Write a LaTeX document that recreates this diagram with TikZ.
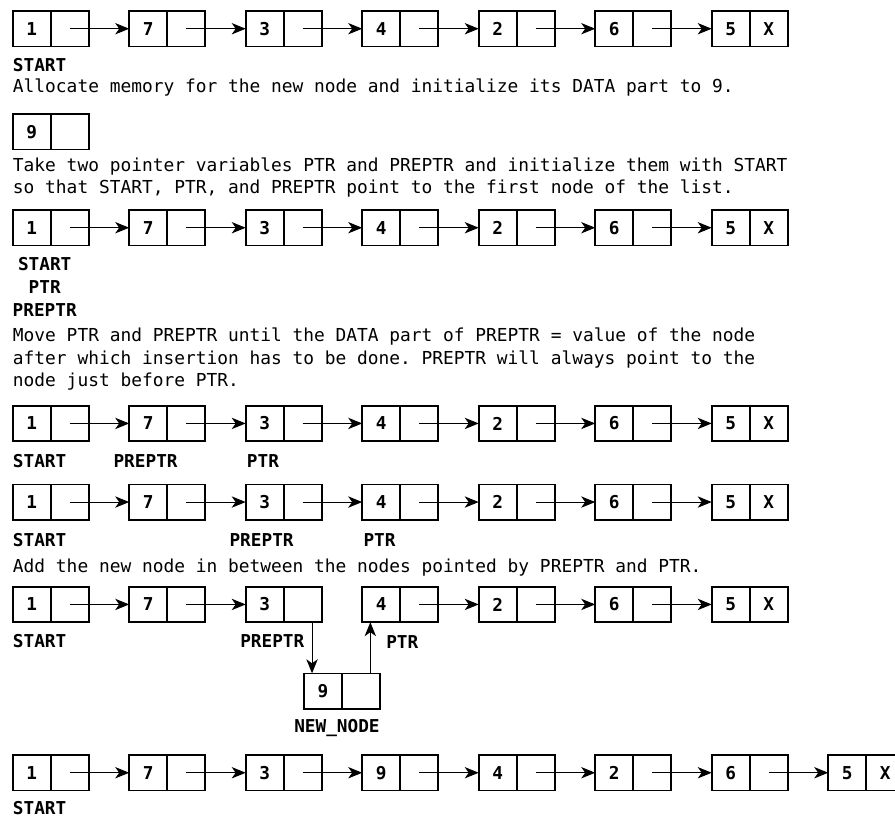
\documentclass[tikz,border=0pt]{standalone}
\usepackage{fontspec}
\setmonofont{DejaVu Sans Mono}
\usepackage{tikz}
\usetikzlibrary{arrows.meta,positioning}

\begin{document}
\begin{tikzpicture}[
  x=0.75pt, y=-0.75pt,
  cell/.style={draw, line width=1.2pt, outer sep=0pt, inner sep=0pt, minimum width=28.5pt, minimum height=26.6pt, font=\ttfamily\bfseries\fontsize{13.3}{16}\selectfont},
  txt/.style={anchor=base west, inner sep=0pt, font=\ttfamily\fontsize{13.4}{16}\selectfont},
  lbl/.style={txt, font=\ttfamily\bfseries\fontsize{13.3}{16}\selectfont},
  ptr/.style={-{Stealth[length=10.5pt,width=8.5pt,inset=3pt]}, line width=0.8pt}
]
\useasboundingbox (0,0) rectangle (895,818);

% the list, five times
\foreach \r/\top in {1/11, 3/210, 4/405.7, 5/484.3, 6/586.7} {
  \foreach \v/\nx [count=\i from 0] in {1/{},7/{},3/{},4/{},2/{},6/{},5/X} {
    \node[cell, anchor=north west] (d\r-\i) at ({12.7+116.5*\i},\top) {\v};
    \node[cell, right=0pt of d\r-\i] (l\r-\i) {\nx};
  }
}
\foreach \r in {1,3,4,5} {
  \foreach \i [count=\j from 1] in {0,...,5} {
    \draw[ptr] (l\r-\i.center) -- (d\r-\j.west);
  }
}
\foreach \i/\j in {0/1,1/2,3/4,4/5,5/6}
  \draw[ptr] (l6-\i.center) -- (d6-\j.west);

% final list with 9 inserted
\foreach \v/\nx [count=\i from 0] in {1/{},7/{},3/{},9/{},4/{},2/{},6/{},5/X} {
  \node[cell, anchor=north west] (d7-\i) at ({12.7+116.5*\i},755) {\v};
  \node[cell, right=0pt of d7-\i] (l7-\i) {\nx};
}
\foreach \i [count=\j from 1] in {0,...,6}
  \draw[ptr] (l7-\i.center) -- (d7-\j.west);

% new node
\node[cell, anchor=north west] (d2-0) at (12.7,114) {9};
\node[cell, right=0pt of d2-0] (l2-0) {};
\node[cell, anchor=north west] (dn) at (304,673.3) {9};
\node[cell, right=0pt of dn] (ln) {};
\draw[ptr] ([xshift=7pt]l6-2.south) -- ([xshift=7pt]l6-2.south |- dn.north);
\draw[ptr] ([xshift=7pt]ln.north) -- ([xshift=7pt]ln.north |- d6-3.south);

% texts
\node[lbl] (s1) at (12.7,71) {START};
\node[txt] (t1) at (12.7,92) {Allocate memory for the new node and initialize its DATA part to 9.};
\node[txt] (t2) at (12.7,171) {Take two pointer variables PTR and PREPTR and initialize them with START};
\node[txt] (t3) at (12.7,193) {so that START, PTR, and PREPTR point to the first node of the list.};
\node[lbl, anchor=base] (s3) at (44.7,270) {START};
\node[lbl, anchor=base] (p3) at (44.7,293) {PTR};
\node[lbl, anchor=base] (q3) at (44.7,316) {PREPTR};
\node[txt] (t4) at (12.7,341) {Move PTR and PREPTR until the DATA part of PREPTR = value of the node};
\node[txt] (t5) at (12.7,364) {after which insertion has to be done. PREPTR will always point to the};
\node[txt] (t6) at (12.7,386) {node just before PTR.};
\node[lbl] (s4) at (12.7,467) {START};
\node[lbl] (q4) at (113.3,467) {PREPTR};
\node[lbl] (p4) at (246.7,467) {PTR};
\node[lbl] (s5) at (12.7,546) {START};
\node[lbl] (q5) at (229.3,546) {PREPTR};
\node[lbl] (p5) at (363.3,546) {PTR};
\node[txt] (t7) at (12.7,572) {Add the new node in between the nodes pointed by PREPTR and PTR.};
\node[lbl] (s6) at (12.7,647) {START};
\node[lbl] (q6) at (240,647) {PREPTR};
\node[lbl] (p6) at (386,648) {PTR};
\node[lbl] (nn) at (294,732) {NEW\_NODE};
\node[lbl] (s7) at (12.7,814.5) {START};
\end{tikzpicture}
\end{document}
